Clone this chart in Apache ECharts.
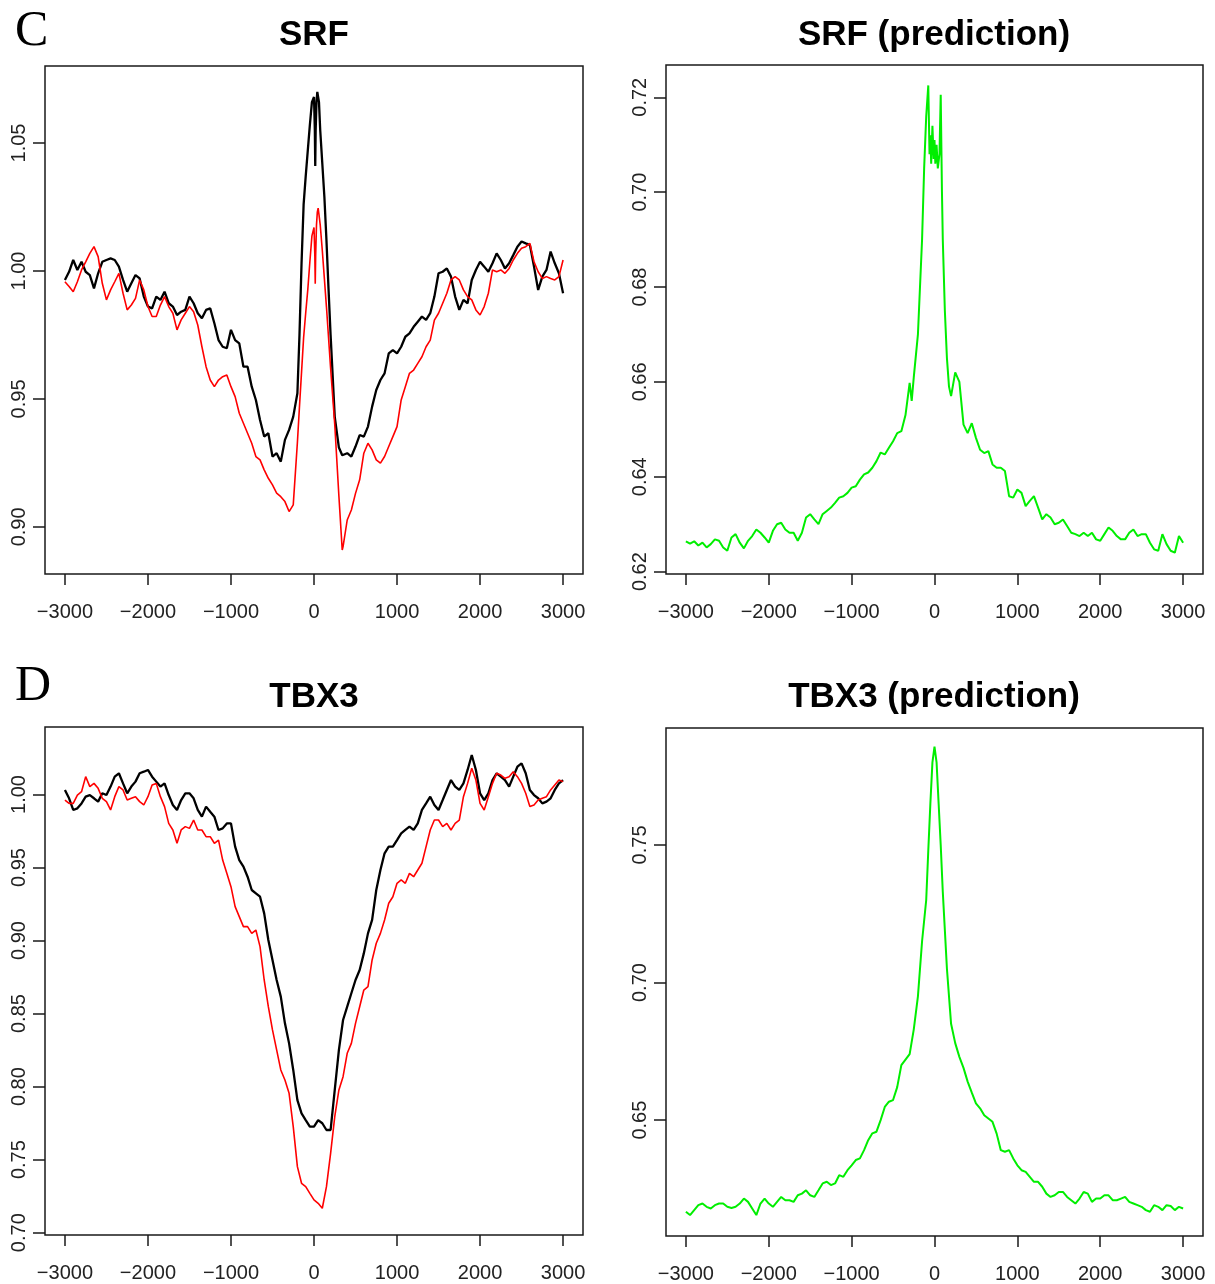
<!DOCTYPE html>
<html>
<head>
<meta charset="utf-8">
<script src="https://cdn.jsdelivr.net/npm/echarts@6/dist/echarts.min.js"></script>
<style>
  html, body { margin: 0; padding: 0; background: #fff; }
  #chart { width: 1215px; height: 1284px; }
</style>
</head>
<body>
<div id="chart"></div>
<script>
// ---- Panel C (SRF): distance to site vs. normalised signal ----
function range(a, b, step) { const r = []; for (let v = a; v <= b; v += step) r.push(v); return r; }

const posSRF = range(-3000, -200, 50)
  .concat([-175, -150, -125, -100, -75, -50, -25, 0, 10, 15, 20, 30, 40, 50, 60, 75, 100, 125, 150, 175, 200, 250, 300, 340])
  .concat(range(350, 3000, 50));

const srfBlack = [
  0.9965, 0.9997, 1.0043, 1.0004, 1.0036, 0.9997, 0.9984, 0.9932, 0.9991, 1.0036,
  1.0043, 1.0049, 1.0043, 1.0017, 0.9965, 0.9919, 0.9952, 0.9984, 0.9971, 0.9900,
  0.9861, 0.9854, 0.9900, 0.9887, 0.9919, 0.9874, 0.9861, 0.9828, 0.9841, 0.9848,
  0.9900, 0.9874, 0.9835, 0.9815, 0.9848, 0.9854, 0.9796, 0.9730, 0.9704, 0.9698,
  0.9770, 0.9730, 0.9717, 0.9626, 0.9626, 0.9548, 0.9496, 0.9418, 0.9353, 0.9366,
  0.9275, 0.9288, 0.9255, 0.9340, 0.9379, 0.9431, 0.9522,
  0.975, 1.003, 1.026, 1.037, 1.047, 1.057, 1.066, 1.068, 1.055, 1.041, 1.055, 1.066,
  1.070, 1.0707, 1.066, 1.055, 1.042, 1.029, 1.012, 0.993, 0.975, 0.943, 0.931, 0.928,
  0.9281, 0.9288, 0.9275, 0.9314, 0.9359, 0.9353, 0.9392, 0.9470, 0.9535, 0.9574,
  0.9600, 0.9678, 0.9691, 0.9678, 0.9704, 0.9743, 0.9756, 0.9782, 0.9802, 0.9822,
  0.9809, 0.9835, 0.9900, 0.9991, 0.9997, 1.0010, 0.9978, 0.9900, 0.9848, 0.9887,
  0.9874, 0.9965, 1.0004, 1.0036, 1.0017, 0.9997, 1.0030, 1.0069, 1.0043, 1.0010,
  1.0030, 1.0062, 1.0095, 1.0115, 1.0108, 1.0102, 1.0017, 0.9926, 0.9978, 1.0004,
  1.0076, 1.0030, 0.9991, 0.9913
];

const srfRed = [
  0.9958, 0.9939, 0.9919, 0.9958, 1.0004, 1.0036, 1.0069, 1.0095, 1.0056, 0.9952,
  0.9887, 0.9926, 0.9958, 0.9991, 0.9913, 0.9848, 0.9867, 0.9893, 0.9965, 0.9926,
  0.9861, 0.9822, 0.9822, 0.9867, 0.9900, 0.9861, 0.9835, 0.9770, 0.9809, 0.9835,
  0.9861, 0.9841, 0.9789, 0.9704, 0.9626, 0.9574, 0.9548, 0.9574, 0.9587, 0.9594,
  0.9548, 0.9509, 0.9444, 0.9405, 0.9366, 0.9327, 0.9275, 0.9262, 0.9223, 0.9190,
  0.9164, 0.9132, 0.9118, 0.9099, 0.9060, 0.9086, 0.933,
  0.947, 0.9605, 0.974, 0.9836, 0.9926, 1.0035, 1.0137, 1.017, 1.006, 0.995, 1.006, 1.018,
  1.023, 1.0246, 1.022, 1.018, 1.008, 0.997, 0.986, 0.974, 0.962, 0.940, 0.912, 0.891,
  0.8923, 0.9027, 0.9066, 0.9131, 0.9184, 0.9288, 0.9327, 0.9301, 0.9262, 0.9249,
  0.9275, 0.9314, 0.9353, 0.9392, 0.9496, 0.9548, 0.9600, 0.9613, 0.9639, 0.9665,
  0.9704, 0.9730, 0.9808, 0.9835, 0.9874, 0.9913, 0.9965, 0.9978, 0.9965, 0.9926,
  0.9900, 0.9887, 0.9848, 0.9828, 0.9861, 0.9913, 1.0004, 0.9997, 1.0004, 0.9991,
  1.0010, 1.0043, 1.0069, 1.0089, 1.0095, 1.0108, 1.0036, 0.9997, 0.9971, 0.9978,
  0.9971, 0.9965, 0.9978, 1.0043
];

// ---- SRF prediction ----
const posSRFPred = range(-3000, -350, 50)
  .concat([-300, -275, -250, -200, -150, -125, -100, -75, -60, -50, -40, -25, -10, 0, 10, 25, 40, 60, 75, 90, 100, 125, 150, 175, 200, 250, 300])
  .concat(range(350, 3000, 50));

const srfPred = [
  0.6264, 0.6259, 0.6264, 0.6255, 0.6261, 0.6251, 0.6258, 0.6268, 0.6265, 0.6251,
  0.6244, 0.6272, 0.6279, 0.6261, 0.6249, 0.6265, 0.6275, 0.6289, 0.6282, 0.6272,
  0.6261, 0.6286, 0.6300, 0.6303, 0.6289, 0.6282, 0.6282, 0.6265, 0.6282, 0.6314,
  0.6321, 0.6310, 0.6300, 0.6321, 0.6328, 0.6335, 0.6345, 0.6356, 0.6359, 0.6366,
  0.6377, 0.6380, 0.6394, 0.6405, 0.6409, 0.6419, 0.6433, 0.6451, 0.6447, 0.6461,
  0.6475, 0.6492, 0.6496, 0.6530,
  0.6598, 0.6560, 0.6610, 0.6700, 0.6900, 0.7050, 0.7160, 0.7225, 0.7080, 0.7120,
  0.7060, 0.7140, 0.7070, 0.7110, 0.7060, 0.7100, 0.7050, 0.7080, 0.7205, 0.7000,
  0.6900, 0.6750, 0.6650, 0.6590, 0.6570, 0.6620, 0.6600,
  0.6510, 0.6492, 0.6513, 0.6482, 0.6457, 0.6450, 0.6454, 0.6426, 0.6419, 0.6419,
  0.6412, 0.6359, 0.6356, 0.6373, 0.6366, 0.6338, 0.6349, 0.6359, 0.6335, 0.6310,
  0.6321, 0.6314, 0.6300, 0.6303, 0.6310, 0.6296, 0.6282, 0.6279, 0.6275, 0.6282,
  0.6275, 0.6282, 0.6268, 0.6265, 0.6279, 0.6293, 0.6286, 0.6275, 0.6268, 0.6268,
  0.6282, 0.6289, 0.6275, 0.6279, 0.6279, 0.6261, 0.6247, 0.6244, 0.6279, 0.6258,
  0.6244, 0.6240, 0.6275, 0.6261
];

// ---- Panel D (TBX3) ----
const posTBX3 = range(-3000, 3000, 50);

const tbx3Black = [
  1.0031, 0.9974, 0.9894, 0.9905, 0.9939, 0.9985, 0.9996, 0.9974, 0.9951, 1.0008,
  0.9996, 1.0054, 1.0122, 1.0145, 1.0076, 1.0008, 1.0054, 1.0088, 1.0145, 1.0156,
  1.0168, 1.0122, 1.0088, 1.0054, 1.0076, 0.9996, 0.9928, 0.9894, 0.9962, 1.0008,
  1.0008, 0.9974, 0.9894, 0.9848, 0.9917, 0.9882, 0.9848, 0.9757, 0.9768, 0.9802,
  0.9802, 0.9643, 0.9551, 0.9506, 0.9437, 0.9346, 0.9323, 0.9300, 0.9186, 0.9004,
  0.8867, 0.8730, 0.8616, 0.8433, 0.8296, 0.8114, 0.7908, 0.7817, 0.7771, 0.7726,
  0.7726, 0.7771, 0.7749, 0.7703, 0.7703, 0.7977, 0.8251, 0.8456, 0.8547, 0.8639,
  0.8730, 0.8798, 0.8912, 0.9049, 0.9141, 0.9346, 0.9483, 0.9597, 0.9643, 0.9643,
  0.9688, 0.9734, 0.9757, 0.9780, 0.9757, 0.9802, 0.9894, 0.9939, 0.9985, 0.9928,
  0.9894, 0.9962, 1.0031, 1.0099, 1.0054, 1.0031, 1.0076, 1.0168, 1.0270, 1.0168,
  1.0008, 0.9962, 1.0008, 1.0099, 1.0145, 1.0122, 1.0099, 1.0054, 1.0122, 1.0190,
  1.0213, 1.0145, 1.0031, 0.9996, 0.9974, 0.9939, 0.9951, 0.9974, 1.0031, 1.0076,
  1.0099
];

const tbx3Red = [
  0.9962, 0.9939, 0.9939, 0.9996, 1.0019, 1.0122, 1.0054, 1.0076, 1.0042, 0.9974,
  0.9951, 0.9894, 0.9985, 1.0054, 1.0031, 0.9962, 0.9974, 0.9985, 0.9951, 0.9928,
  0.9985, 1.0065, 1.0076, 0.9985, 0.9917, 0.9802, 0.9757, 0.9666, 0.9757, 0.9780,
  0.9768, 0.9825, 0.9757, 0.9757, 0.9711, 0.9711, 0.9666, 0.9688, 0.9551, 0.9460,
  0.9369, 0.9232, 0.9164, 0.9095, 0.9095, 0.9049, 0.9072, 0.8958, 0.8730, 0.8547,
  0.8388, 0.8251, 0.8114, 0.8045, 0.7954, 0.7726, 0.7452, 0.7338, 0.7315, 0.7269,
  0.7224, 0.7201, 0.7167, 0.7315, 0.7543, 0.7794, 0.7977, 0.8068, 0.8228, 0.8296,
  0.8433, 0.8547, 0.8661, 0.8684, 0.8867, 0.8981, 0.9049, 0.9141, 0.9255, 0.9300,
  0.9392, 0.9415, 0.9392, 0.9460, 0.9437, 0.9483, 0.9529, 0.9643, 0.9757, 0.9825,
  0.9825, 0.9780, 0.9802, 0.9757, 0.9802, 0.9825, 0.9985, 1.0076, 1.0179, 1.0099,
  0.9939, 0.9894, 0.9985, 1.0076, 1.0145, 1.0133, 1.0111, 1.0122, 1.0156, 1.0122,
  1.0076, 1.0008, 0.9917, 0.9928, 0.9962, 0.9974, 0.9985, 1.0031, 1.0065, 1.0099,
  1.0088
];

// ---- TBX3 prediction ----
const posTBX3Pred = range(-3000, -500, 50)
  .concat([-450, -400, -350, -300, -250, -200, -150, -100, -75, -50, -25, 0, 25, 50, 75, 100, 150, 200, 250, 300, 350, 400, 450])
  .concat(range(500, 3000, 50));

const tbx3Pred = [
  0.6167, 0.6155, 0.6173, 0.6191, 0.6197, 0.6185, 0.6179, 0.6191, 0.6197, 0.6197,
  0.6185, 0.6181, 0.6185, 0.6197, 0.6215, 0.6203, 0.6179, 0.6155, 0.6197, 0.6215,
  0.6197, 0.6185, 0.6203, 0.6221, 0.6209, 0.6209, 0.6203, 0.6227, 0.6233, 0.6245,
  0.6227, 0.6221, 0.6245, 0.6270, 0.6276, 0.6264, 0.6270, 0.6300, 0.6294, 0.6318,
  0.6336, 0.6355, 0.6361, 0.6391, 0.6427, 0.6452, 0.6458, 0.6500, 0.6548, 0.6567,
  0.6573,
  0.6620, 0.6700, 0.6720, 0.6740, 0.6830, 0.6950, 0.7150, 0.7300, 0.7480, 0.7650,
  0.7800, 0.7857, 0.7800, 0.7650, 0.7500, 0.7330, 0.7050, 0.6850, 0.6780, 0.6730,
  0.6690, 0.6640, 0.6600,
  0.6561, 0.6543, 0.6518, 0.6506, 0.6494, 0.6451, 0.6391, 0.6385, 0.6391, 0.6361,
  0.6336, 0.6318, 0.6312, 0.6294, 0.6276, 0.6276, 0.6258, 0.6233, 0.6221, 0.6227,
  0.6239, 0.6239, 0.6221, 0.6209, 0.6197, 0.6215, 0.6239, 0.6233, 0.6203, 0.6215,
  0.6215, 0.6227, 0.6227, 0.6209, 0.6209, 0.6215, 0.6221, 0.6203, 0.6197, 0.6191,
  0.6185, 0.6173, 0.6167, 0.6191, 0.6185, 0.6173, 0.6191, 0.6188, 0.6173, 0.6185,
  0.6179
];

// tick positions
const xTicks = [-3000, -2000, -1000, 0, 1000, 2000, 3000];
const yTicksSRF = [0.90, 0.95, 1.00, 1.05];
const yTicksSRFPred = [0.62, 0.64, 0.66, 0.68, 0.70, 0.72];
const yTicksTBX3 = [0.70, 0.75, 0.80, 0.85, 0.90, 0.95, 1.00];
const yTicksTBX3Pred = [0.65, 0.70, 0.75];

const titles = ['SRF', 'SRF (prediction)', 'TBX3', 'TBX3 (prediction)'];
const panelLetters = ['C', 'D'];

// ---- layout ----
const grids = [
  { left: 45, top: 66, width: 538, height: 508 },
  { left: 666, top: 65, width: 537, height: 509 },
  { left: 45, top: 727, width: 538, height: 508 },
  { left: 666, top: 728, width: 537, height: 508 }
];
const yRanges = [[0.8816, 1.0801], [0.6195, 0.7268], [0.6984, 1.0462], [0.6079, 0.7925]];
const yTickSets = [yTicksSRF, yTicksSRFPred, yTicksTBX3, yTicksTBX3Pred];

const ink = '#1a1a1a';
const tickFont = { fontFamily: 'Liberation Sans, Arial, sans-serif', fontSize: 20, color: '#222' };
const minus = v => (v < 0 ? '\u2212' + (-v) : String(v));

const xAxes = grids.map((g, i) => ({
  type: 'value', gridIndex: i, min: -3240, max: 3240, position: 'bottom',
  axisLine: { show: false, onZero: false },
  splitLine: { show: false },
  axisTick: { show: true, customValues: xTicks, length: 11, lineStyle: { color: ink, width: 1.5 } },
  axisLabel: Object.assign({ customValues: xTicks, margin: 28, formatter: minus }, tickFont)
}));

const yAxes = grids.map((g, i) => ({
  type: 'value', gridIndex: i, min: yRanges[i][0], max: yRanges[i][1], position: 'left',
  axisLine: { show: false, onZero: false },
  splitLine: { show: false },
  axisTick: { show: true, customValues: yTickSets[i], length: 12, lineStyle: { color: ink, width: 1.5 } },
  axisLabel: Object.assign({ customValues: yTickSets[i], rotate: 90, margin: 16, formatter: v => v.toFixed(2) }, tickFont)
}));

const zip = (xs, ys) => xs.map((x, k) => [x, ys[k]]);
const lineSeries = (idx, xs, ys, color, width) => ({
  type: 'line', xAxisIndex: idx, yAxisIndex: idx,
  data: zip(xs, ys), showSymbol: false, symbol: 'none',
  lineStyle: { color: color, width: width }, silent: true
});

const series = [
  lineSeries(0, posSRF, srfBlack, '#000000', 2.3),
  lineSeries(0, posSRF, srfRed, '#ff0000', 1.6),
  lineSeries(1, posSRFPred, srfPred, '#00ee00', 2),
  lineSeries(2, posTBX3, tbx3Black, '#000000', 2.3),
  lineSeries(2, posTBX3, tbx3Red, '#ff0000', 1.6),
  lineSeries(3, posTBX3Pred, tbx3Pred, '#00ee00', 2)
];

const titleCenters = [[314, 35], [934, 35], [314, 697], [934, 697]];
const graphic = titles.map((t, i) => ({
  type: 'text', x: titleCenters[i][0], y: titleCenters[i][1],
  style: { text: t, align: 'center', verticalAlign: 'middle', font: 'bold 35px "Liberation Sans", Arial, sans-serif', fill: '#000' }
})).concat(panelLetters.map((l, i) => ({
  type: 'text', x: 15, y: i === 0 ? 32 : 687,
  style: { text: l, align: 'left', verticalAlign: 'middle', font: '50px "Liberation Serif", "Times New Roman", serif', fill: '#000' }
})));

const chart = echarts.init(document.getElementById('chart'), null, { renderer: 'canvas' });
chart.setOption({
  animation: false,
  backgroundColor: '#ffffff',
  grid: grids.map(g => Object.assign({ show: true, borderColor: ink, borderWidth: 1.5, backgroundColor: 'transparent', containLabel: false }, g)),
  xAxis: xAxes,
  yAxis: yAxes,
  series: series,
  graphic: graphic
});
</script>
</body>
</html>
